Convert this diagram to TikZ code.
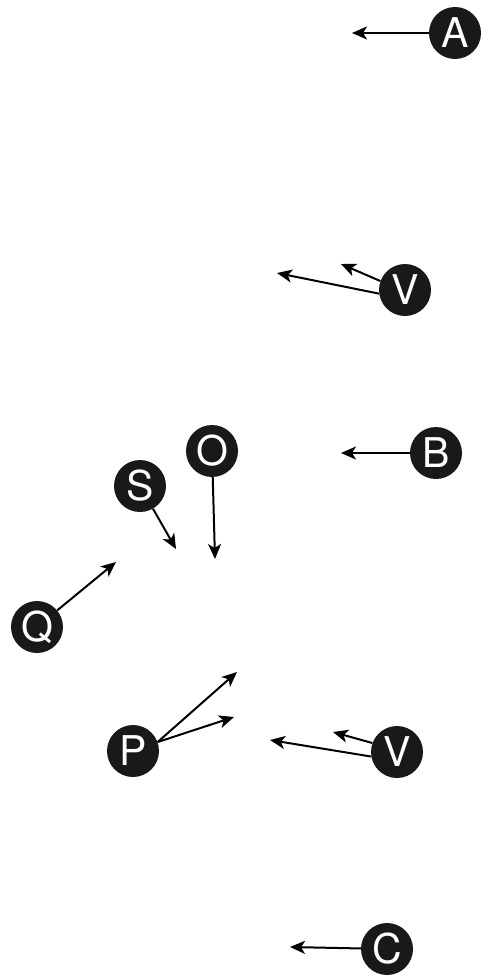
\documentclass[tikz,border=0pt]{standalone}
\usepackage{fontspec}
\setmainfont{TeX Gyre Heros}
\usetikzlibrary{arrows.meta}

\tikzset{
  lbl/.style={circle, fill=black!90, text=white, minimum size=52pt, inner sep=0pt,
              font=\fontsize{41}{41}\selectfont},
  vec/.style={line width=2pt, -{Stealth[length=15pt,width=13pt,inset=4pt]}}
}

\begin{document}
\begin{tikzpicture}[x=1pt,y=-1pt]
    \useasboundingbox (0,0) rectangle (490,979);
    % labels
    \node[lbl] (a)  at (455,33)  {A};
    \node[lbl] (v1) at (405,290) {V};
    \node[lbl] (b)  at (436,453) {B};
    \node[lbl] (o)  at (212,451) {O};
    \node[lbl] (s)  at (140,486) {S};
    \node[lbl] (q)  at (37,627)  {Q};
    \node[lbl] (p)  at (133,751) {P};
    \node[lbl] (v2) at (397,752) {V};
    \node[lbl] (c)  at (387,949) {C};
    % arrow ends
    \coordinate (ta)  at (352,33);
    \coordinate (tv1) at (277,273);
    \coordinate (sv1) at (341,264);
    \coordinate (tb)  at (341,453);
    \coordinate (to)  at (215,559);
    \coordinate (ts)  at (176,549);
    \coordinate (tq)  at (116,562);
    \coordinate (tp1) at (237,672);
    \coordinate (tp2) at (234,717);
    \coordinate (tv2) at (270,740);
    \coordinate (sv2) at (333,732);
    \coordinate (tc)  at (290,947);
    % arrows
    \draw[vec] (a) -- (ta);
    \draw[vec] (v1.188) -- (tv1);
    \draw[vec] (v1.160) -- (sv1);
    \draw[vec] (b) -- (tb);
    \draw[vec] (o) -- (to);
    \draw[vec] (s) -- (ts);
    \draw[vec] (q) -- (tq);
    \draw[vec] (p.20) -- (tp1);
    \draw[vec] (p.20) -- (tp2);
    \draw[vec] (v2.190) -- (tv2);
    \draw[vec] (v2.160) -- (sv2);
    \draw[vec] (c) -- (tc);
\end{tikzpicture}
\end{document}
